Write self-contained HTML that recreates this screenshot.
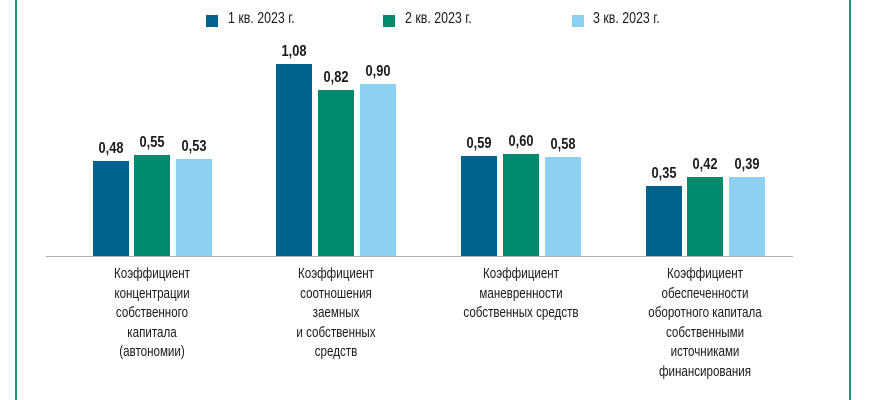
<!DOCTYPE html>
<html><head><meta charset="utf-8"><style>
body{margin:0;width:870px;height:400px;background:#fff;position:relative;overflow:hidden;font-family:"Liberation Sans",sans-serif;color:#1a1a1a}
.b{position:absolute;bottom:144px;width:36px}
.c1{background:#00628f}.c2{background:#008a6e}.c3{background:#8dd1f2}
.v{position:absolute;width:50px;text-align:center;font-size:16px;font-weight:bold;transform:scaleX(0.8)}
.lab{position:absolute;width:200px;text-align:center;font-size:14.5px;line-height:19.5px;transform:scaleX(0.8);top:265px}
.lg{position:absolute;top:15px;width:12px;height:12px}
.lt{position:absolute;top:10px;font-size:15.5px;transform:scaleX(0.8);transform-origin:left}
</style></head><body>
<div style="position:absolute;left:15px;top:0;width:2px;height:400px;background:#1a9a7c"></div>
<div style="position:absolute;left:849px;top:0;width:2px;height:400px;background:#1a9a7c"></div>
<div class="lg c1" style="left:206px"></div><div class="lt" style="left:228px">1 кв. 2023 г.</div>
<div class="lg c2" style="left:383px"></div><div class="lt" style="left:405px">2 кв. 2023 г.</div>
<div class="lg c3" style="left:572px"></div><div class="lt" style="left:593px">3 кв. 2023 г.</div>
<div style="position:absolute;left:46px;top:256px;width:747px;height:1px;background:#b0b0b0"></div>

<div class="b c1" style="left:93px;top:161px"></div><div class="v" style="left:86px;top:140px">0,48</div>
<div class="b c2" style="left:134px;top:155px"></div><div class="v" style="left:127px;top:134px">0,55</div>
<div class="b c3" style="left:176px;top:159px"></div><div class="v" style="left:169px;top:138px">0,53</div>

<div class="b c1" style="left:276px;top:64px"></div><div class="v" style="left:269px;top:43px">1,08</div>
<div class="b c2" style="left:318px;top:90px"></div><div class="v" style="left:311px;top:69px">0,82</div>
<div class="b c3" style="left:360px;top:84px"></div><div class="v" style="left:353px;top:63px">0,90</div>

<div class="b c1" style="left:461px;top:156px"></div><div class="v" style="left:454px;top:135px">0,59</div>
<div class="b c2" style="left:503px;top:154px"></div><div class="v" style="left:496px;top:133px">0,60</div>
<div class="b c3" style="left:545px;top:157px"></div><div class="v" style="left:538px;top:136px">0,58</div>

<div class="b c1" style="left:646px;top:186px"></div><div class="v" style="left:639px;top:165px">0,35</div>
<div class="b c2" style="left:687px;top:177px"></div><div class="v" style="left:680px;top:156px">0,42</div>
<div class="b c3" style="left:729px;top:177px"></div><div class="v" style="left:722px;top:156px">0,39</div>

<div class="lab" style="left:52px">Коэффициент<br>концентрации<br>собственного<br>капитала<br>(автономии)</div>
<div class="lab" style="left:236px">Коэффициент<br>соотношения<br>заемных<br>и собственных<br>средств</div>
<div class="lab" style="left:421px">Коэффициент<br>маневренности<br>собственных средств</div>
<div class="lab" style="left:605px">Коэффициент<br>обеспеченности<br>оборотного капитала<br>собственными<br>источниками<br>финансирования</div>
</body></html>
